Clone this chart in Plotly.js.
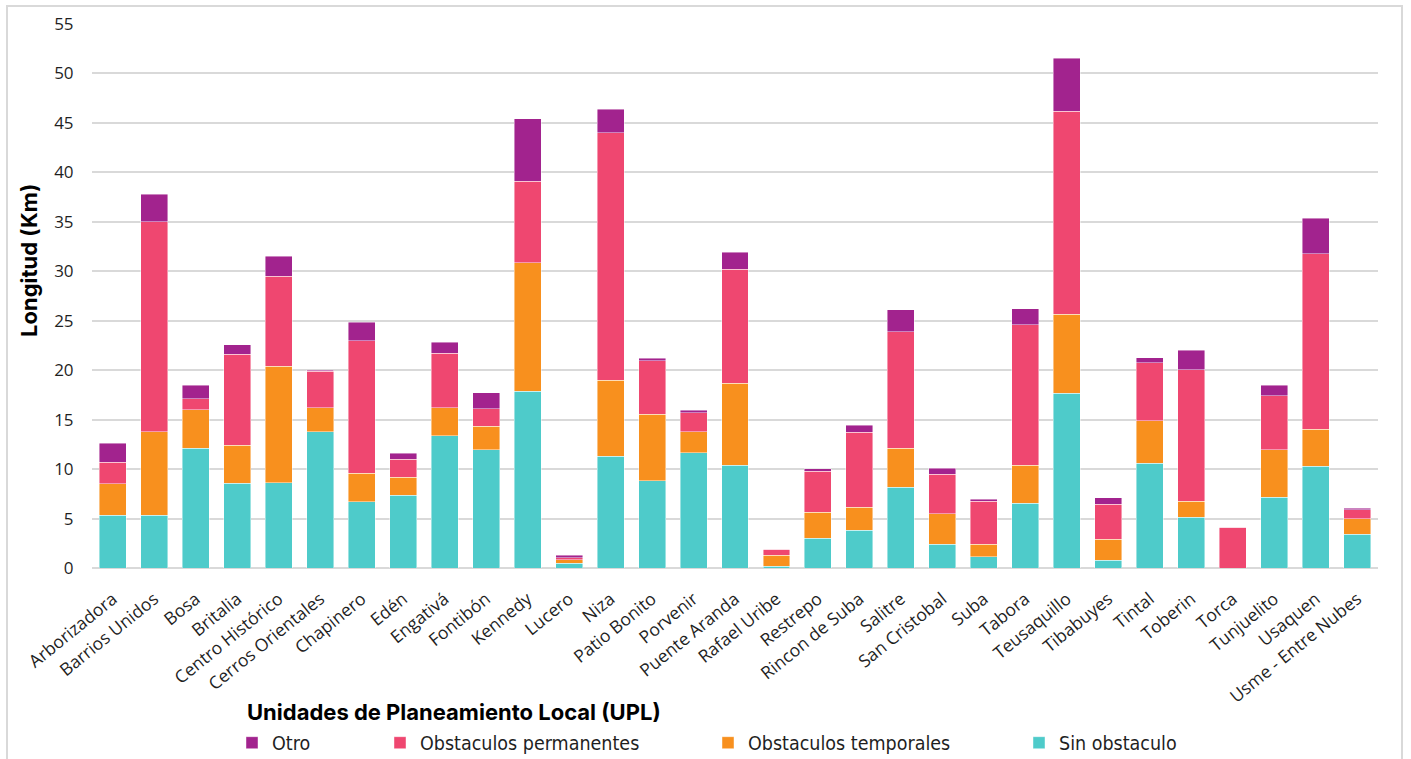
<!DOCTYPE html>
<html>
<head>
<meta charset="utf-8">
<script src="https://cdn.plot.ly/plotly-3.0.1.min.js"></script>
<style>
  html, body { margin: 0; padding: 0; background: #ffffff; }
  #wrap { position: relative; width: 1411px; height: 759px; overflow: hidden; }
  #chart { position: absolute; left: 0; top: 0; width: 1411px; height: 759px; }
  #frame { position: absolute; left: 6px; top: 5px; width: 1397px; height: 770px;
           border: 2px solid #d9d9d9; box-sizing: border-box; pointer-events: none; }
</style>
</head>
<body>
<div id="wrap">
  <div id="chart"></div>
  <div id="frame"></div>
</div>
<script>
// Unidades de Planeamiento Local
const upl = [
  "Arborizadora", "Barrios Unidos", "Bosa", "Britalia", "Centro Histórico",
  "Cerros Orientales", "Chapinero", "Edén", "Engativá", "Fontibón",
  "Kennedy", "Lucero", "Niza", "Patio Bonito", "Porvenir",
  "Puente Aranda", "Rafael Uribe", "Restrepo", "Rincon de Suba", "Salitre",
  "San Cristobal", "Suba", "Tabora", "Teusaquillo", "Tibabuyes",
  "Tintal", "Toberin", "Torca", "Tunjuelito", "Usaquen",
  "Usme - Entre Nubes"
];

// Longitud (km) por tipo de condición
const sinObstaculo = [
  5.35, 5.35, 12.1, 8.55, 8.6,
  13.8, 6.7, 7.35, 13.35, 11.95,
  17.85, 0.5, 11.3, 8.8, 11.65,
  10.4, 0.2, 3.0, 3.8, 8.15,
  2.4, 1.15, 6.55, 17.65, 0.8,
  10.6, 5.15, 0, 7.15, 10.3,
  3.4
];
const obstaculosTemporales = [
  3.15, 8.45, 3.9, 3.85, 11.8,
  2.4, 2.9, 1.85, 2.85, 2.4,
  13.0, 0.35, 7.7, 6.75, 2.15,
  8.3, 1.1, 2.65, 2.35, 3.95,
  3.1, 1.25, 3.85, 8.0, 2.1,
  4.3, 1.6, 0, 4.8, 3.75,
  1.6
];
const obstaculosPermanentes = [
  2.2, 21.2, 1.1, 9.2, 9.1,
  3.7, 13.4, 1.8, 5.5, 1.75,
  8.25, 0.2, 25.0, 5.4, 1.9,
  11.5, 0.6, 4.15, 7.55, 11.8,
  4.0, 4.35, 14.2, 20.55, 3.55,
  5.85, 13.3, 4.1, 5.45, 17.7,
  0.9
];
const otro = [
  1.9, 2.8, 1.4, 0.95, 2.0,
  0.1, 1.85, 0.6, 1.1, 1.6,
  6.3, 0.25, 2.4, 0.25, 0.25,
  1.7, 0, 0.25, 0.75, 2.2,
  0.6, 0.2, 1.6, 5.35, 0.65,
  0.5, 1.95, 0, 1.1, 3.6,
  0.15
];

const yTicks = [0, 5, 10, 15, 20, 25, 30, 35, 40, 45, 50, 55];

const edge = { color: "rgba(255,255,255,0.55)", width: 0.8 };

function barTrace(name, values, color, legendId) {
  return {
    type: "bar",
    name: name,
    x: upl,
    y: values,
    marker: { color: color, line: edge },
    legend: legendId,
    hoverinfo: "x+y+name"
  };
}

const traces = [
  barTrace("Sin obstaculo", sinObstaculo, "#4ecbca", "legend4"),
  barTrace("Obstaculos temporales", obstaculosTemporales, "#f8901e", "legend3"),
  barTrace("Obstaculos permanentes", obstaculosPermanentes, "#ef4770", "legend2"),
  barTrace("Otro", otro, "#a2238e", "legend")
];

const legendFont = {
  family: "Liberation Sans Narrow, DejaVu Sans Condensed, sans-serif",
  stretch: "condensed",
  size: 19.5,
  color: "#1f1f1f"
};

// plot area spans x 92..1378 px and y 24..568 px
const plotLeft = 92, plotWidth = 1286, plotBottom = 568, plotHeight = 544;
const px = v => (v - plotLeft) / plotWidth;
const py = v => (plotBottom - v) / plotHeight;

function legendAt(xPix) {
  return {
    x: px(xPix), y: py(743), xanchor: "left", yanchor: "middle",
    orientation: "h", font: legendFont, bgcolor: "rgba(0,0,0,0)",
    itemwidth: 30, tracegroupgap: 0
  };
}

const titleFont = { family: "Inter, sans-serif", size: 22, color: "#000000" };

const layout = {
  width: 1411,
  height: 759,
  margin: { l: 92, r: 33, t: 24, b: 191, autoexpand: false },
  paper_bgcolor: "#ffffff",
  plot_bgcolor: "#ffffff",
  barmode: "stack",
  bargap: 0.35,
  showlegend: true,
  legend: legendAt(232),
  legend2: legendAt(380),
  legend3: legendAt(708),
  legend4: legendAt(1019),
  xaxis: {
    tickangle: -39,
    tickfont: { family: "Open Sans, sans-serif", size: 17.5, color: "#1f1f1f" },
    showgrid: false,
    showline: false,
    zeroline: false,
    ticks: "outside",
    ticklen: 13,
    tickcolor: "rgba(0,0,0,0)",
    automargin: false
  },
  yaxis: {
    range: [0, 55],
    tickvals: yTicks,
    ticktext: yTicks.map(String),
    tickfont: { family: "Open Sans, sans-serif", size: 17, color: "#1f1f1f" },
    showgrid: true,
    gridcolor: "#d9d9d9",
    gridwidth: 1.5,
    zeroline: true,
    zerolinecolor: "#d9d9d9",
    zerolinewidth: 1.5,
    showline: false,
    ticks: "outside",
    ticklen: 14,
    tickcolor: "rgba(0,0,0,0)",
    automargin: false
  },
  annotations: [
    {
      text: "<b>Unidades de Planeamiento Local (UPL)</b>",
      xref: "paper", yref: "paper",
      x: px(454), y: py(712),
      xanchor: "center", yanchor: "middle",
      showarrow: false,
      font: titleFont
    },
    {
      text: "<b>Longitud (Km)</b>",
      xref: "paper", yref: "paper",
      x: px(29), y: py(261),
      xanchor: "center", yanchor: "middle",
      textangle: -90,
      showarrow: false,
      font: titleFont
    }
  ]
};

Plotly.newPlot("chart", traces, layout, { displayModeBar: false });
</script>
</body>
</html>
